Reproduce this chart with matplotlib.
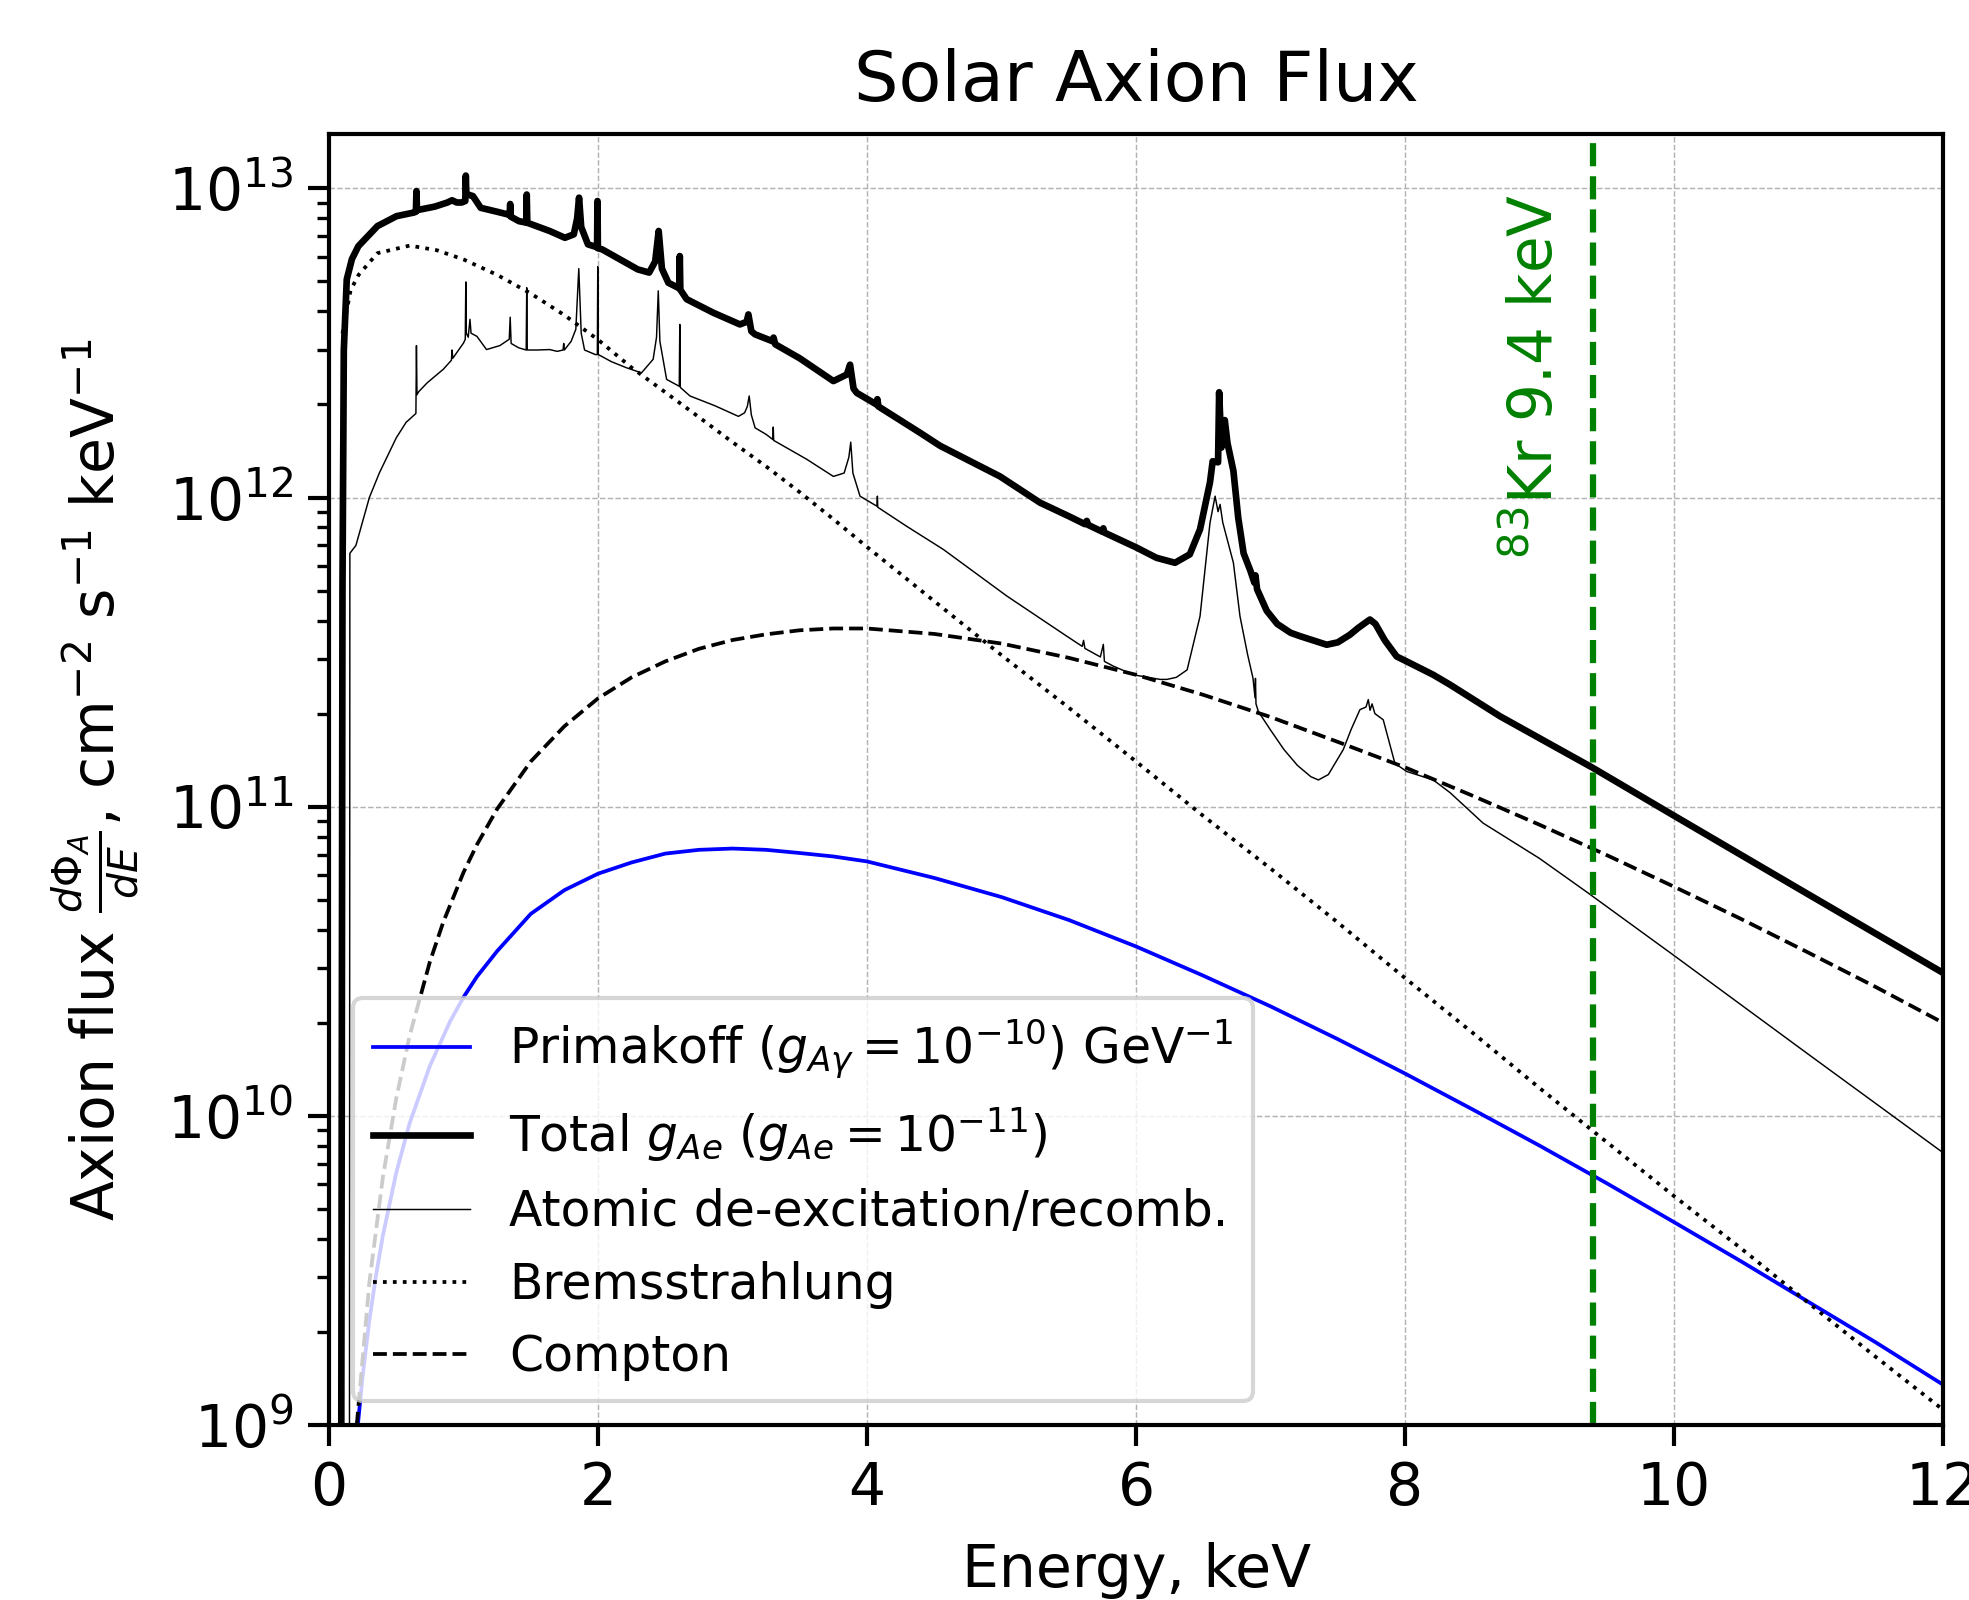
import matplotlib
matplotlib.use("Agg")
import matplotlib.pyplot as plt

# Primakoff (g_Ay = 1e-10 GeV^-1)
prim_e = [0.15, 0.17, 0.2, 0.25, 0.3, 0.35, 0.4, 0.5, 0.6, 0.75, 0.9, 1.0, 1.1, 1.25, 1.5, 1.75,
          2.0, 2.25, 2.5, 2.75, 3.0, 3.25, 3.5, 3.75, 4.0, 4.5, 5.0, 5.5, 6.0, 6.5, 7.0, 7.5,
          8.0, 8.5, 9.0, 9.5, 10.0, 10.5, 11.0, 11.5, 12.0]
prim_f = [4.37e8, 5.92e8, 8.65e8, 1.44e9, 2.18e9, 3.06e9, 4.09e9, 6.55e9, 9.48e9, 1.45e10,
          2.02e10, 2.42e10, 2.82e10, 3.41e10, 4.50e10, 5.37e10, 6.07e10, 6.60e10, 7.05e10,
          7.25e10, 7.32e10, 7.25e10, 7.08e10, 6.90e10, 6.65e10, 5.88e10, 5.10e10, 4.30e10,
          3.53e10, 2.84e10, 2.26e10, 1.77e10, 1.37e10, 1.05e10, 8.01e9, 6.05e9, 4.53e9,
          3.38e9, 2.50e9, 1.85e9, 1.35e9]

# Bremsstrahlung
brem_e = [0.1, 0.16, 0.22, 0.36, 0.6, 0.8, 1.0, 1.25, 1.5, 1.75, 2.0, 2.25, 2.5, 2.75, 3.0,
          3.25, 3.5, 3.75, 4.0, 4.5, 5.0, 5.5, 6.0, 6.5, 7.0, 7.5, 8.0, 8.5, 9.0, 9.5, 10.0,
          10.5, 11.0, 11.5, 12.0]
brem_f = [3.39e12, 4.68e12, 5.25e12, 6.17e12, 6.53e12, 6.31e12, 5.89e12, 5.25e12, 4.57e12,
          3.89e12, 3.24e12, 2.63e12, 2.19e12, 1.82e12, 1.51e12, 1.26e12, 1.04e12, 8.51e11,
          6.92e11, 4.62e11, 3.09e11, 2.09e11, 1.40e11, 9.33e10, 6.31e10, 4.22e10, 2.79e10,
          1.86e10, 1.23e10, 8.22e9, 5.50e9, 3.72e9, 2.48e9, 1.66e9, 1.12e9]

# Compton
comp_e = [0.15, 0.2, 0.3, 0.4, 0.5, 0.6, 0.75, 0.85, 1.0, 1.1, 1.25, 1.5, 1.75, 2.0, 2.25,
          2.5, 2.75, 3.0, 3.25, 3.5, 3.75, 4.0, 4.5, 5.0, 5.5, 6.0, 6.5, 7.0, 7.5, 8.0, 8.5,
          9.0, 9.5, 10.0, 10.5, 11.0, 11.5, 12.0]
comp_f = [4.1e8, 9.3e8, 2.89e9, 6.32e9, 1.14e10, 1.82e10, 3.15e10, 4.24e10, 6.13e10, 7.54e10,
          9.83e10, 1.40e11, 1.82e11, 2.24e11, 2.62e11, 2.95e11, 3.24e11, 3.46e11, 3.61e11,
          3.72e11, 3.77e11, 3.77e11, 3.62e11, 3.37e11, 3.03e11, 2.67e11, 2.30e11, 1.95e11,
          1.62e11, 1.34e11, 1.086e11, 8.74e10, 6.97e10, 5.51e10, 4.33e10, 3.37e10, 2.61e10,
          2.0e10]

# Atomic de-excitation / recombination
atom_e = [0.15, 0.155, 0.2, 0.3, 0.374, 0.5, 0.573, 0.646, 0.65, 0.654, 0.667, 0.73, 0.85,
          0.91, 0.915, 0.92, 1.0, 1.013, 1.017, 1.021, 1.035, 1.048, 1.056, 1.1, 1.171, 1.27,
          1.34, 1.347, 1.354, 1.41, 1.466, 1.47, 1.474, 1.55, 1.64, 1.697, 1.74, 1.745, 1.75,
          1.8, 1.835, 1.857, 1.875, 1.9, 1.98, 1.995, 1.998, 2.002, 2.1, 2.21, 2.323, 2.41,
          2.435, 2.448, 2.46, 2.51, 2.604, 2.608, 2.612, 2.684, 2.87, 3.044, 3.09, 3.11,
          3.124, 3.14, 3.168, 3.25, 3.3, 3.303, 3.306, 3.551, 3.75, 3.83, 3.865, 3.879, 3.895,
          3.948, 4.074, 4.077, 4.08, 4.295, 4.568, 5.04, 5.485, 5.6, 5.61, 5.62, 5.735, 5.757,
          5.765, 5.83, 5.98, 6.18, 6.23, 6.3, 6.38, 6.476, 6.55, 6.588, 6.61, 6.625, 6.645,
          6.724, 6.773, 6.83, 6.87, 6.885, 6.888, 6.892, 6.91, 7.0, 7.1, 7.2, 7.3, 7.356,
          7.43, 7.541, 7.6, 7.665, 7.71, 7.727, 7.74, 7.755, 7.776, 7.838, 7.925, 8.012,
          8.21, 8.335, 8.58, 9.0, 9.35, 10.0, 11.0, 12.0]
atom_f = [1e7, 6.6e11, 7.0e11, 1.0e12, 1.2e12, 1.56e12, 1.75e12, 1.87e12, 3.1e12, 2.15e12,
          2.2e12, 2.35e12, 2.6e12, 2.78e12, 3.0e12, 2.82e12, 3.16e12, 3.25e12, 4.98e12, 3.4e12,
          3.3e12, 3.77e12, 3.4e12, 3.32e12, 3.01e12, 3.1e12, 3.25e12, 3.83e12, 3.15e12, 3.05e12,
          3.0e12, 4.77e12, 3.0e12, 3.0e12, 3.01e12, 2.97e12, 3.0e12, 3.15e12, 3.0e12, 3.2e12,
          3.5e12, 5.5e12, 3.4e12, 3.0e12, 2.9e12, 2.9e12, 5.58e12, 2.9e12, 2.75e12, 2.63e12,
          2.53e12, 2.8e12, 3.3e12, 4.66e12, 3.2e12, 2.41e12, 2.29e12, 3.63e12, 2.27e12,
          2.13e12, 1.98e12, 1.83e12, 1.88e12, 1.97e12, 2.13e12, 1.85e12, 1.68e12, 1.6e12,
          1.54e12, 1.69e12, 1.53e12, 1.33e12, 1.17e12, 1.2e12, 1.35e12, 1.51e12, 1.2e12,
          1.01e12, 9.37e11, 1.01e12, 9.3e11, 8.07e11, 6.79e11, 4.80e11, 3.56e11, 3.3e11,
          3.45e11, 3.25e11, 3.05e11, 3.35e11, 2.95e11, 2.85e11, 2.67e11, 2.58e11, 2.58e11,
          2.62e11, 2.77e11, 4.13e11, 8.28e11, 1.01e12, 9.0e11, 9.5e11, 8.3e11, 6.15e11,
          4.13e11, 3.1e11, 2.6e11, 2.25e11, 2.6e11, 2.15e11, 2.03e11, 1.77e11, 1.53e11,
          1.36e11, 1.25e11, 1.22e11, 1.27e11, 1.53e11, 1.78e11, 2.06e11, 2.1e11, 2.22e11,
          2.05e11, 2.15e11, 2.0e11, 1.91e11, 1.38e11, 1.30e11, 1.22e11, 1.11e11, 8.85e10,
          6.8e10, 5.3e10, 3.3e10, 1.58e10, 7.6e9]

# Total g_Ae
tot_e = [0.088, 0.1, 0.11, 0.132, 0.17, 0.218, 0.36, 0.502, 0.63, 0.646, 0.65, 0.654, 0.787,
         0.88, 0.915, 0.95, 0.986, 1.013, 1.017, 1.021, 1.05, 1.07, 1.128, 1.25, 1.327, 1.343,
         1.347, 1.351, 1.413, 1.466, 1.47, 1.474, 1.64, 1.754, 1.82, 1.845, 1.859, 1.875,
         1.925, 1.993, 1.996, 1.999, 2.03, 2.295, 2.38, 2.425, 2.451, 2.475, 2.523, 2.604,
         2.608, 2.612, 2.659, 2.857, 3.055, 3.105, 3.118, 3.14, 3.168, 3.3, 3.305, 3.318,
         3.5, 3.75, 3.85, 3.874, 3.9, 3.924, 4.07, 4.077, 4.085, 4.394, 4.543, 4.989, 5.287,
         5.5, 5.62, 5.634, 5.645, 5.75, 5.757, 5.765, 6.0, 6.153, 6.29, 6.4, 6.476, 6.55,
         6.57, 6.61, 6.618, 6.635, 6.66, 6.68, 6.724, 6.76, 6.8, 6.85, 6.88, 6.888, 6.9,
         6.972, 7.05, 7.15, 7.22, 7.418, 7.5, 7.591, 7.65, 7.7, 7.739, 7.78, 7.85, 7.938,
         8.012, 8.21, 8.335, 8.707, 9.39, 10.0, 11.0, 12.0]
tot_f = [1e8, 5e11, 3.0e12, 5.08e12, 5.9e12, 6.5e12, 7.55e12, 8.13e12, 8.35e12, 8.4e12,
         9.8e12, 8.5e12, 8.73e12, 9.0e12, 9.15e12, 9.0e12, 9.0e12, 9.1e12, 1.10e13, 9.6e12,
         9.5e12, 9.44e12, 8.65e12, 8.4e12, 8.24e12, 8.2e12, 8.9e12, 8.1e12, 7.83e12, 7.75e12,
         9.55e12, 7.74e12, 7.28e12, 6.92e12, 7.1e12, 8.0e12, 9.33e12, 7.5e12, 6.59e12,
         6.45e12, 9.1e12, 6.4e12, 6.35e12, 5.47e12, 5.34e12, 5.8e12, 7.28e12, 5.5e12,
         4.95e12, 4.75e12, 6.04e12, 4.7e12, 4.38e12, 3.96e12, 3.63e12, 3.7e12, 3.91e12,
         3.45e12, 3.37e12, 3.2e12, 3.29e12, 3.13e12, 2.82e12, 2.38e12, 2.5e12, 2.69e12,
         2.25e12, 2.18e12, 2.0e12, 2.08e12, 1.97e12, 1.62e12, 1.47e12, 1.17e12, 9.62e11,
         8.7e11, 8.2e11, 8.4e11, 8.15e11, 7.75e11, 7.95e11, 7.7e11, 6.9e11, 6.38e11, 6.15e11,
         6.55e11, 7.89e11, 1.12e12, 1.31e12, 1.3e12, 2.19e12, 1.45e12, 1.78e12, 1.5e12,
         1.22e12, 8.6e11, 6.6e11, 5.8e11, 5.3e11, 5.6e11, 5.05e11, 4.3e11, 3.9e11, 3.65e11,
         3.56e11, 3.34e11, 3.4e11, 3.6e11, 3.78e11, 3.92e11, 4.03e11, 3.9e11, 3.45e11,
         3.06e11, 2.95e11, 2.67e11, 2.48e11, 1.96e11, 1.34e11, 9.35e10, 5.2e10, 2.9e10]

kr_energy = 9.4

fig = plt.figure(figsize=(1969 / 300, 1600 / 300), dpi=300)
ax = fig.add_axes([0.1671, 0.1094, 0.8197, 0.8069])

ax.plot(prim_e, prim_f, color="blue", lw=0.9,
        label=r"Primakoff ($g_{A\gamma}=10^{-10}$) GeV$^{-1}$")
ax.plot(tot_e, tot_f, color="black", lw=1.6,
        label=r"Total $g_{Ae}$ ($g_{Ae}=10^{-11}$)")
ax.plot(atom_e, atom_f, color="black", lw=0.35, label="Atomic de-excitation/recomb.")
ax.plot(brem_e, brem_f, color="black", lw=0.9, ls=":", label="Bremsstrahlung")
ax.plot(comp_e, comp_f, color="black", lw=0.9, ls="--", label="Compton")

ax.axvline(kr_energy, color="green", lw=1.5, ls="--")
ax.text(kr_energy - 0.2, 9.6e12, r"$^{83}$Kr 9.4 keV", color="green", rotation=90,
        ha="right", va="top", fontsize=14.3)

ax.set_yscale("log")
ax.set_xlim(0, 12)
ax.set_ylim(1e9, 1.5e13)
ax.set_xticks([0, 2, 4, 6, 8, 10, 12])
ax.grid(True, which="major", ls="--", lw=0.35, color="0.7")
ax.tick_params(which="major", labelsize=14, length=5, width=1.0)
ax.tick_params(which="minor", length=3, width=0.8)
for s in ax.spines.values():
    s.set_linewidth(1.0)

ax.set_title("Solar Axion Flux", fontsize=16.8, pad=7.8)
ax.set_xlabel("Energy, keV", fontsize=14, labelpad=6)
ax.set_ylabel(r"Axion flux $\frac{d\Phi_A}{dE}$, cm$^{-2}$ s$^{-1}$ keV$^{-1}$",
              fontsize=14, labelpad=6)
ax.legend(loc="lower left", fontsize=11.7)

fig.savefig("out.png", dpi=300)
